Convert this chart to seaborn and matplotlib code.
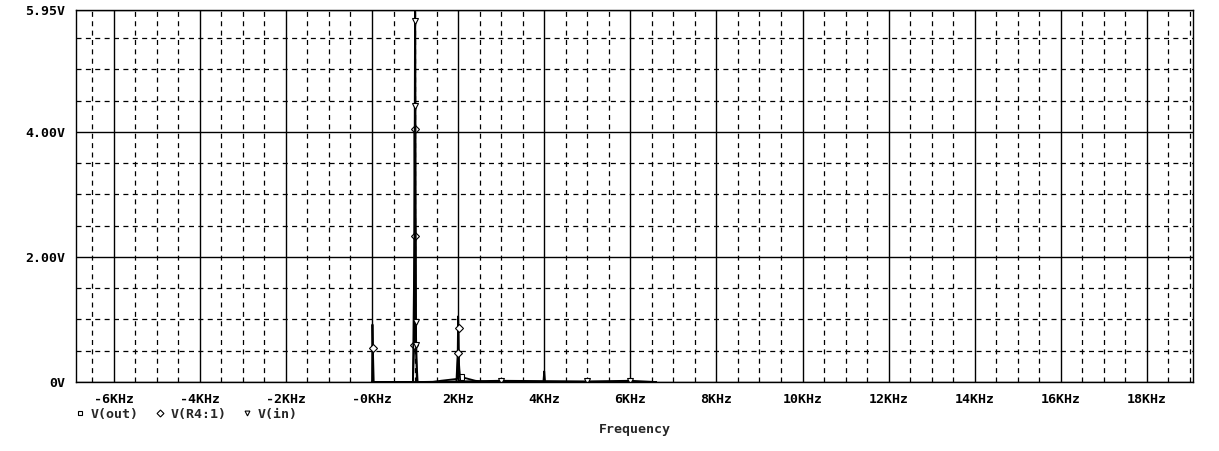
import numpy as np
import seaborn as sns
import matplotlib.pyplot as plt
from matplotlib.lines import Line2D
from matplotlib.ticker import MultipleLocator

# FFT traces (frequency in kHz, magnitude in V)
vout_freq = [0.0, 1.40, 1.60, 1.98, 2.00, 2.03, 2.07, 2.40, 2.65, 6.60]
vout_volt = [0.0, 0.00, 0.02, 0.05, 0.50, 0.10, 0.08, 0.02, 0.00, 0.00]

vr4_freq = [0.0, 0.01, 0.02, 0.04, 0.95, 0.98, 0.99, 1.00, 1.01, 1.02, 1.04,
            1.96, 1.99, 2.00, 2.01, 2.02, 2.05, 3.00, 3.98, 4.00, 4.02, 6.00, 6.60]
vr4_volt = [0.0, 0.92, 0.55, 0.00, 0.00, 0.59, 4.05, 2.75, 2.33, 0.90, 0.00,
            0.00, 0.46, 1.05, 0.86, 0.30, 0.00, 0.00, 0.00, 0.17, 0.00, 0.00, 0.00]

vin_freq = [0.0, 0.95, 0.985, 1.00, 1.005, 1.01, 1.02, 1.025, 1.03, 1.06,
            3.00, 5.00, 6.00, 6.60]
vin_volt = [0.0, 0.00, 2.30, 6.40, 5.78, 4.42, 0.96, 0.59, 0.40, 0.00,
            0.02, 0.01, 0.02, 0.00]

series_labels = ["V(out)", "V(R4:1)", "V(in)"]
series_markers = ["s", "D", "v"]

xticks = [-6, -4, -2, 0, 2, 4, 6, 8, 10, 12, 14, 16, 18]
xtick_labels = ["-6KHz", "-4KHz", "-2KHz", "-0KHz", "2KHz", "4KHz", "6KHz",
                "8KHz", "10KHz", "12KHz", "14KHz", "16KHz", "18KHz"]
yticks = [0, 2, 4, 5.95]
ytick_labels = ["0V", "2.00V", "4.00V", "5.95V"]

sns.set_style("white")
plt.rcParams["font.family"] = ["DejaVu Sans Mono", "DejaVu Sans"]
plt.rcParams["font.weight"] = "bold"

fig = plt.figure(figsize=(12.19, 4.51), dpi=100)
ax = fig.add_axes([76 / 1219, 69 / 451, 1117 / 1219, 372 / 451])

traces = [
    (vout_freq, vout_volt, [6]),
    (vr4_freq, vr4_volt, [2, 5, 6, 8, 12, 14]),
    (vin_freq, vin_volt, [4, 5, 6, 7, 10, 11, 12]),
]
for (f, v, marks), mk in zip(traces, series_markers):
    sns.lineplot(x=f, y=v, ax=ax, color="black", lw=1.3, sort=False,
                 estimator=None, marker=mk, markevery=marks, markersize=4,
                 markerfacecolor="white", markeredgecolor="black",
                 markeredgewidth=0.8, clip_on=True)

ax.set_xlim(-6.876, 19.07)
ax.set_ylim(0, 5.95)
ax.set_xticks(xticks)
ax.set_xticklabels(xtick_labels)
ax.set_yticks(yticks)
ax.set_yticklabels(ytick_labels)
ax.xaxis.set_minor_locator(MultipleLocator(0.5))
ax.yaxis.set_minor_locator(MultipleLocator(0.5))
ax.grid(which="major", color="black", lw=1, ls="-")
ax.grid(which="minor", color="black", lw=0.9, ls=(0, (4, 3.5)))
ax.tick_params(which="major", direction="out", length=6, width=1,
               colors="black", labelsize=9.5, pad=2)
ax.tick_params(which="minor", length=0)
for sp in ax.spines.values():
    sp.set_color("black")
    sp.set_linewidth(1)
ax.set_xlabel("Frequency", fontsize=9.5, fontweight="bold", labelpad=12)
ax.set_ylabel("")

handles = [Line2D([], [], ls="none", marker=m, markersize=3.5,
                  markerfacecolor="white", markeredgecolor="black",
                  markeredgewidth=0.8) for m in series_markers]
leg = ax.legend(handles, series_labels, loc="upper left",
                bbox_to_anchor=(0.0, -0.069), ncol=3, frameon=False,
                handlelength=0.6, handletextpad=0.5, columnspacing=1.3,
                prop={"size": 9.5, "weight": "bold"}, borderaxespad=0,
                borderpad=0)

fig.savefig("out.png", dpi=100, facecolor="white")
